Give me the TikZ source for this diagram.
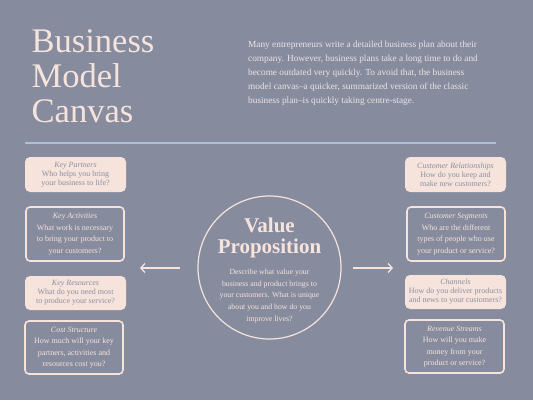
\documentclass[tikz,border=0pt]{standalone}
\usepackage{fontspec}
\setmainfont{Liberation Serif}
\usetikzlibrary{arrows.meta}
\definecolor{bgc}{RGB}{134,140,158}
\definecolor{pinkc}{RGB}{246,227,220}
\definecolor{linec}{RGB}{172,192,210}
\definecolor{grayt}{RGB}{138,143,160}
\definecolor{parat}{RGB}{236,228,230}
\begin{document}
\begin{tikzpicture}[x=1pt,y=-1pt,
  pinkbox/.style={fill=pinkc, rounded corners=5pt, inner sep=0pt, text=grayt, align=center,
    font={\fontsize{8}{9}\selectfont}},
  darkbox/.style={draw=pinkc, line width=1.6pt, rounded corners=4pt, inner sep=0pt, text=pinkc, align=center,
    font={\fontsize{8}{11.5}\selectfont}},
  arr/.style={draw=pinkc, line width=1.3pt, -{Straight Barb[length=4pt,width=9pt,line width=1.3pt]}}
]
\fill[bgc] (0,0) rectangle (533,400);
\useasboundingbox (0,0) rectangle (533,400);

\node[anchor=north west, inner sep=0pt, align=left, text=pinkc,
  font={\fontsize{34.5}{35}\selectfont}] (title) at (31.5,29.5) {Business\\Model\\Canvas};

\node[anchor=north west, inner sep=0pt, align=left, text=parat,
  font={\fontsize{9.3}{14}\selectfont}] (intro) at (248,40.5)
  {Many entrepreneurs write a detailed business plan about their\\
   company. However, business plans take a long time to do and\\
   become outdated very quickly. To avoid that, the business\\
   model canvas--a quicker, summarized version of the classic\\
   business plan--is quickly taking centre-stage.};

\coordinate (hl1) at (25,143);
\coordinate (hl2) at (496,143);
\draw[linec, line width=1.4pt] (hl1) -- (hl2);

% left column
\node[pinkbox, minimum width=101pt, minimum height=35pt] (kp) at (75.5,174.5)
  {{\itshape Key Partners}\\Who helps you bring\\your business to life?};
\node[darkbox, minimum width=98pt, minimum height=54pt] (ka) at (75,234)
  {{\itshape Key Activities}\\What work is necessary\\to bring your product to\\your customers?};
\node[pinkbox, minimum width=101pt, minimum height=34pt] (kr) at (75.5,293)
  {{\itshape Key Resources}\\What do you need most\\to produce your service?};
\node[darkbox, minimum width=98pt, minimum height=53pt] (cs) at (74,347.5)
  {{\itshape Cost Structure}\\How much will your key\\partners, activities and\\resources cost you?};

% right column
\node[pinkbox, minimum width=101pt, minimum height=35pt] (cr) at (455.5,174.5)
  {{\itshape Customer Relationships}\\How do you keep and\\make new customers?};
\node[darkbox, minimum width=98pt, minimum height=54pt] (cseg) at (456,234)
  {{\itshape Customer Segments}\\Who are the different\\types of people who use\\your product or service?};
\node[pinkbox, minimum width=101pt, minimum height=34pt] (ch) at (455.5,292)
  {{\itshape Channels}\\How do you deliver products\\and news to your customers?};
\node[darkbox, minimum width=99pt, minimum height=53pt] (rs) at (454.5,346.5)
  {{\itshape Revenue Streams}\\How will you make\\money from your\\product or service?};

% centre circle
\node[draw=pinkc, line width=1.2pt, circle, minimum size=143pt, inner sep=0pt] (vp) at (269.5,267.5) {};
\node[text=pinkc, align=center, inner sep=0pt, font={\fontsize{21}{21}\selectfont\bfseries}] (vpt) at (269.5,238)
  {Value\\Proposition};
\node[text=pinkc, align=center, inner sep=0pt, font={\fontsize{7.8}{11.6}\selectfont}] (vpd) at (269.5,296)
  {Describe what value your\\business and product brings to\\your customers. What is unique\\about you and how do you\\improve lives?};

% arrows
\coordinate (la1) at (180,268);
\coordinate (la2) at (140,268);
\coordinate (ra1) at (353,268);
\coordinate (ra2) at (393,268);
\draw[arr] (la1) -- (la2);
\draw[arr] (ra1) -- (ra2);
\end{tikzpicture}
\end{document}
